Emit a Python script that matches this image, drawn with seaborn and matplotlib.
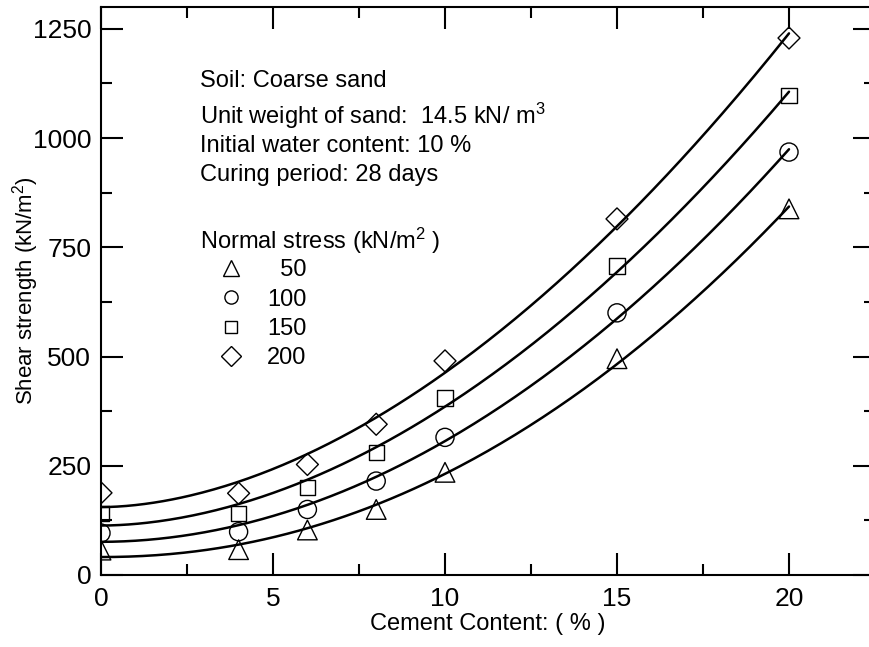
import matplotlib
matplotlib.use("Agg")
import matplotlib.pyplot as plt
from matplotlib.lines import Line2D
from matplotlib.ticker import MultipleLocator
import numpy as np
import pandas as pd
import seaborn as sns

# Cement content (%) at which specimens were tested
cement = [0, 4, 6, 8, 10, 15, 20]

# Shear strength (kN/m^2) for each normal stress level
shear_50 = [57, 58, 103, 150, 235, 495, 838]
shear_100 = [96, 99, 150, 215, 315, 600, 968]
shear_150 = [140, 141, 200, 280, 405, 707, 1098]
shear_200 = [188, 187, 253, 345, 490, 815, 1229]

stress_labels = ["  50", "100", "150", "200"]
markers = ["^", "o", "s", "D"]
marker_sizes = [200, 170, 120, 125]
legend_marker_sizes = [11, 9.5, 8.5, 10]


def power_fit(x, y, grid):
    """Least-squares fit of y = a + b * x**c, scanning the exponent c."""
    x = np.asarray(x, float)
    y = np.asarray(y, float)
    best = None
    for c in np.linspace(1.0, 4.0, 1201):
        X = np.column_stack([np.ones_like(x), x ** c])
        coef, *_ = np.linalg.lstsq(X, y, rcond=None)
        sse = np.sum((X @ coef - y) ** 2)
        if best is None or sse < best[0]:
            best = (sse, coef, c)
    _, (a, b), c = best
    return a + b * grid ** c


sns.set_theme(style="ticks")
plt.rcParams["font.family"] = ["Liberation Sans", "DejaVu Sans"]
plt.rcParams["mathtext.fontset"] = "custom"
plt.rcParams["mathtext.rm"] = "Liberation Sans"
plt.rcParams["mathtext.it"] = "Liberation Sans:italic"
plt.rcParams["text.color"] = "black"
plt.rcParams["axes.labelcolor"] = "black"
plt.rcParams["xtick.color"] = "black"
plt.rcParams["ytick.color"] = "black"

fig = plt.figure(figsize=(8.69, 6.47), dpi=100)
ax = fig.add_axes([101 / 869, 1 - 575 / 647, 774 / 869, 568 / 647])

xs = np.linspace(min(cement), max(cement), 300)
series = [shear_50, shear_100, shear_150, shear_200]
for vals, mk, ms in zip(series, markers, marker_sizes):
    fit = pd.DataFrame({"cement": xs, "shear": power_fit(cement, vals, xs)})
    sns.lineplot(data=fit, x="cement", y="shear", color="black", lw=1.8,
                 ax=ax, zorder=2)
    df = pd.DataFrame({"cement": cement, "shear": vals})
    sns.scatterplot(data=df, x="cement", y="shear", marker=mk, s=ms,
                    facecolor="none", edgecolor="black", linewidth=1.0,
                    ax=ax, zorder=3)

ax.set_xlim(0, 22.5)
ax.set_ylim(0, 1300)
ax.xaxis.set_major_locator(MultipleLocator(5))
ax.xaxis.set_minor_locator(MultipleLocator(2.5))
ax.yaxis.set_major_locator(MultipleLocator(250))
ax.yaxis.set_minor_locator(MultipleLocator(125))

ax.tick_params(which="both", direction="in", top=True, right=True,
               width=1.5, colors="black", labelcolor="black", labelsize=19)
ax.tick_params(axis="x", pad=9)
ax.tick_params(axis="y", pad=7)
ax.tick_params(which="major", length=16)
ax.tick_params(which="minor", length=8)
for sp in ax.spines.values():
    sp.set_linewidth(1.5)
    sp.set_color("black")

ax.set_xlabel("Cement Content: ( % )", fontsize=17, labelpad=1,
              color="black")
ax.set_ylabel("Shear strength (kN/m$^2$)", fontsize=16, color="black")
ax.yaxis.set_label_coords(-0.077, 0.5)

info = [
    ("Soil: Coarse sand", 0.869),
    ("Unit weight of sand:  14.5 kN/ m$^3$", 0.808),
    ("Initial water content: 10 %", 0.755),
    ("Curing period: 28 days", 0.704),
]
for txt, yy in info:
    ax.text(0.128, yy, txt, transform=ax.transAxes, fontsize=17,
            color="black", ha="left", va="center")

# Legend heading and the marker key below it
ax.text(0.128, 0.574, "Normal stress (kN/m$^2$ )", transform=ax.transAxes,
        fontsize=17, color="black", ha="left", va="baseline")

handles = [Line2D([], [], linestyle="none", marker=mk, markersize=sz,
                  markerfacecolor="none", markeredgecolor="black",
                  markeredgewidth=1.0)
           for mk, sz in zip(markers, legend_marker_sizes)]
leg = ax.legend(handles, stress_labels,
                loc="upper left", bbox_to_anchor=(0.128, 0.556),
                frameon=False, fontsize=17,
                handlelength=2.6, handletextpad=0.25,
                labelspacing=0.31, borderpad=0, borderaxespad=0)
for t in leg.get_texts():
    t.set_color("black")

fig.savefig("out.png", dpi=100)
